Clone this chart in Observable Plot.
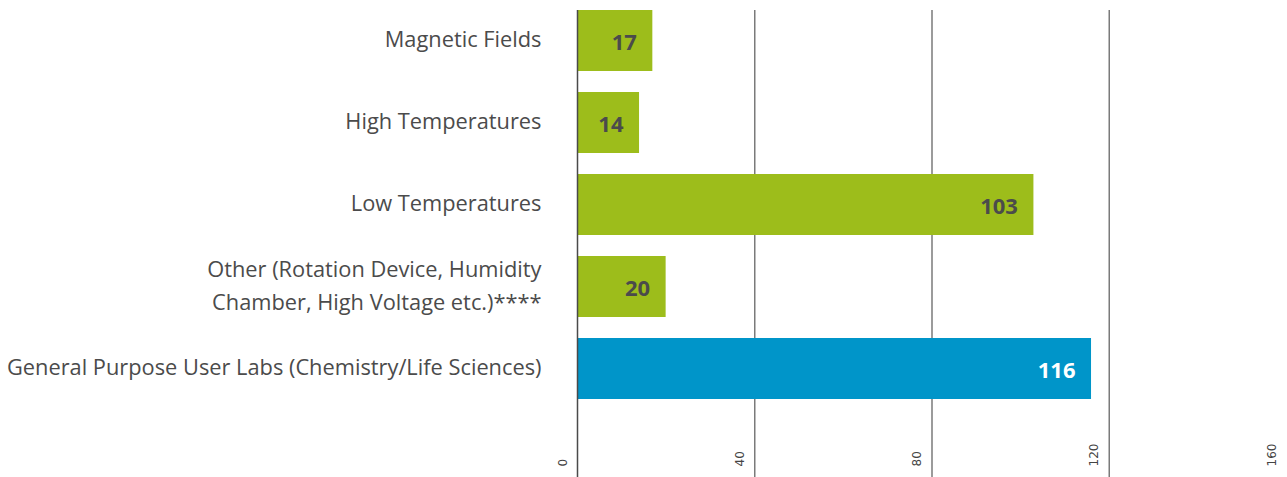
<!DOCTYPE html>
<html><head><meta charset="utf-8">
<script src="https://cdn.jsdelivr.net/npm/d3@7"></script>
<script src="https://cdn.jsdelivr.net/npm/@observablehq/plot@0.6"></script>
<style>
html,body{margin:0;padding:0;background:#fff;}
svg{display:block;}
</style>
</head><body>
<div id="chart"></div>
<script>
const categories = [
  "Magnetic Fields",
  "High Temperatures",
  "Low Temperatures",
  "Other (Rotation Device, Humidity\nChamber, High Voltage etc.)****",
  "General Purpose User Labs (Chemistry/Life Sciences)"
];
const values = [17, 14, 103, 20, 116];
const groups = ["Special environment", "Special environment", "Special environment", "Special environment", "General purpose"];
const tickValues = [0, 40, 80, 120, 160];
const gridValues = [40, 80, 120];

const data = categories.map((c, i) => ({category: c, value: values[i], group: groups[i]}));

const chart = Plot.plot({
  width: 1287,
  height: 477,
  marginLeft: 577,
  marginRight: 1,
  marginTop: 10,
  marginBottom: 0,
  style: {fontFamily: "'Open Sans', sans-serif", background: "#fff"},
  x: {domain: [0, 160], axis: null},
  y: {domain: categories, range: [10, 398.7], paddingInner: 0.26, paddingOuter: 0, axis: null},
  color: {type: "ordinal", domain: ["Special environment", "General purpose"], range: ["#9dbd1b", "#0095c9"]},
  marks: [
    Plot.ruleX(gridValues, {stroke: "#7a7a7a", strokeWidth: 1.5}),
    Plot.barX(data, {y: "category", x: "value", fill: "group"}),
    Plot.ruleX([0], {stroke: "#4a4a4a", strokeWidth: 1.5}),
    Plot.text(data, {y: "category", x: "value", text: d => String(d.value), textAnchor: "end", dx: -16, dy: 2,
      fill: d => d.group === "General purpose" ? "#ffffff" : "#4b4b4b", fontWeight: "bold", fontSize: 22}),
    Plot.text(data, {y: "category", x: 0, text: "category", textAnchor: "end", dx: -36, dy: -4,
      fill: "#4b4b4b", fontSize: 21.8, lineHeight: 1.5}),
    Plot.text(tickValues, {x: d => d, text: d => String(d), frameAnchor: "bottom", rotate: -90,
      textAnchor: "start", dy: -11, dx: -11, fill: "#444", fontSize: 12, fontFamily: "'DejaVu Sans', sans-serif"})
  ]
});
document.getElementById("chart").appendChild(chart);
</script>
</body></html>
